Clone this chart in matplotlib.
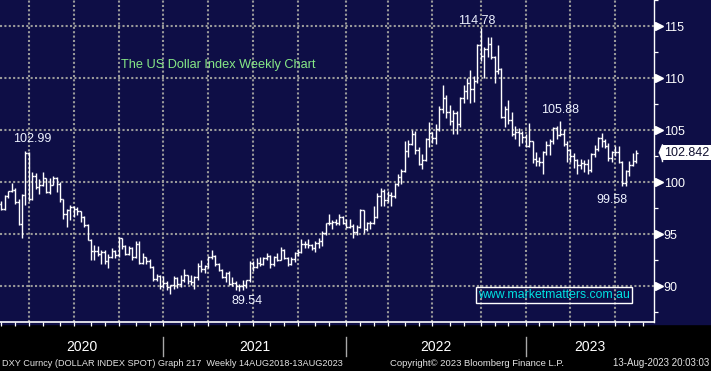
import matplotlib
matplotlib.use('Agg')
import matplotlib.pyplot as plt
import matplotlib.dates as mdates
from matplotlib import font_manager
from matplotlib.patches import Rectangle
from matplotlib.transforms import blended_transform_factory
import numpy as np
import pandas as pd

# DXY weekly bars (week ending Friday)
weeks = pd.date_range('2020-01-24', '2023-08-11', freq='W-FRI')

high_2020 = [97.98, 98.19, 98.76, 99.16, 99.91, 99.47, 98.4, 98.83, 102.99, 102.9,
             100.94, 100.87, 100.27, 100.93, 100.4, 100.4, 100.56, 100.45, 99.98, 98.4,
             97.43, 97.8, 97.7, 97.62, 97.19, 96.74, 96.0, 94.5, 93.99, 93.9,
             93.5, 93.49, 93.08, 93.66, 93.45, 94.74, 94.67, 93.99, 93.88, 93.73,
             94.3, 94.3, 93.21, 92.8, 92.6, 91.9, 91.2, 91.05, 91.0]
low_2020 = [97.35, 97.35, 97.34, 98.5, 99.0, 97.87, 95.84, 94.65, 97.8, 98.22,
            98.27, 99.3, 98.81, 99.6, 98.93, 98.9, 99.68, 99.05, 98.1, 96.43,
            95.71, 96.36, 96.64, 96.87, 96.2, 95.7, 94.4, 92.55, 92.52, 92.87,
            92.13, 92.12, 91.75, 92.7, 92.69, 92.84, 93.6, 92.97, 92.98, 92.47,
            92.73, 92.13, 92.13, 92.11, 91.78, 90.5, 90.47, 89.72, 89.8]
close_2020 = [97.87, 97.39, 98.69, 99.12, 99.26, 98.13, 95.97, 98.75, 102.82, 98.37,
              100.6, 99.52, 99.74, 100.37, 99.08, 99.74, 100.39, 99.86, 98.34, 96.94,
              97.33, 97.65, 97.43, 97.18, 96.65, 95.92, 94.44, 93.35, 93.42, 93.1,
              93.25, 92.37, 92.82, 93.33, 92.96, 94.64, 93.84, 93.06, 93.69, 92.77,
              94.04, 92.23, 92.75, 92.39, 91.79, 90.7, 90.98, 90.02, 90.3]

high_2021 = [90.5, 90.13, 90.95, 90.91, 91.05, 91.6, 91.1, 91.05, 91.0, 92.2,
             92.5, 92.0, 92.85, 93.44, 93.0, 92.2, 91.65, 91.33, 91.43, 90.9,
             90.5, 90.25, 90.6, 90.6, 92.4, 92.4, 92.74, 92.83, 92.83, 93.2,
             93.0, 92.85, 93.2, 93.73, 93.6, 92.75, 92.75, 93.3, 93.6, 94.5,
             94.3, 94.56, 94.0, 94.3, 94.6, 95.27, 96.1, 96.94, 96.38, 96.45,
             96.9, 96.7, 96.44]
low_2021 = [89.6, 89.21, 89.7, 89.84, 89.95, 90.42, 90.2, 90.1, 89.68, 90.6,
            91.35, 91.3, 91.7, 92.6, 91.98, 91.45, 90.8, 90.42, 90.06, 89.98,
            89.64, 89.53, 89.66, 89.8, 90.4, 91.5, 91.7, 91.9, 92.0, 92.5,
            91.78, 91.9, 92.4, 92.5, 92.6, 91.94, 92.0, 92.3, 92.9, 93.2,
            93.7, 93.7, 93.5, 93.28, 93.7, 93.9, 94.9, 95.9, 95.5, 95.85,
            95.85, 95.95, 95.55]
close_2021 = [89.94, 90.1, 90.77, 90.24, 90.58, 91.04, 90.48, 90.36, 90.9, 91.96,
              91.67, 91.9, 92.77, 92.93, 92.16, 91.56, 90.85, 91.28, 90.24, 90.32,
              89.97, 90.0, 90.13, 90.55, 92.23, 91.85, 92.23, 92.12, 92.68, 92.91,
              92.17, 92.78, 92.52, 93.5, 92.69, 92.13, 92.58, 93.19, 93.32, 94.04,
              94.09, 93.96, 93.64, 94.12, 94.32, 95.13, 96.03, 96.08, 96.12, 96.08,
              96.61, 96.1, 95.67]

high_2022 = [96.46, 95.97, 95.85, 97.44, 97.3, 96.2, 96.3, 97.74, 98.93, 99.42,
             99.3, 99.13, 99.06, 99.95, 100.77, 101.3, 103.9, 104.07, 105.01, 104.9,
             103.4, 102.7, 104.2, 105.79, 104.8, 105.6, 107.3, 109.29, 108.4, 107.4,
             106.9, 106.8, 108.2, 109.3, 110.0, 110.8, 110.2, 113.3, 114.78, 113.0,
             113.9, 113.9, 112.1, 113.15, 111.0, 107.3, 107.9, 106.7, 105.4, 105.2,
             104.9, 104.6]
low_2022 = [95.6, 94.63, 94.96, 95.6, 95.14, 95.3, 95.5, 95.95, 96.55, 97.7,
            97.73, 98.1, 97.68, 98.5, 99.6, 99.8, 101.0, 102.4, 103.6, 102.65,
            101.64, 101.3, 102.0, 103.4, 103.8, 103.7, 104.9, 106.6, 106.2, 105.5,
            104.6, 104.6, 105.3, 107.6, 108.0, 107.6, 107.7, 109.5, 111.6, 110.05,
            112.0, 111.8, 109.5, 110.4, 106.2, 105.34, 105.6, 104.4, 104.1, 103.5,
            103.8, 103.4]
close_2022 = [95.73, 95.17, 95.64, 97.27, 95.48, 96.07, 96.05, 96.62, 98.62, 99.12,
              98.23, 98.8, 98.62, 99.8, 100.5, 101.1, 103.0, 103.7, 104.6, 103.1,
              101.7, 102.16, 104.15, 104.7, 104.2, 105.1, 107.0, 108.07, 106.7, 105.9,
              106.6, 105.6, 108.1, 108.8, 109.5, 108.9, 109.76, 113.2, 112.1, 112.8,
              113.3, 112.0, 110.7, 110.9, 106.3, 107.0, 106.0, 104.6, 104.8, 104.7,
              104.3, 103.5]

high_2023 = [105.63, 103.95, 102.9, 102.4, 103.0, 103.96, 104.1, 105.3, 105.36, 105.88,
             105.1, 103.9, 103.2, 102.8, 102.2, 102.2, 102.1, 102.2, 102.8, 103.6,
             104.3, 104.7, 104.1, 103.8, 103.0, 103.5, 103.5, 102.0, 101.2, 102.0,
             102.8, 103.05]
low_2023 = [103.4, 101.8, 101.5, 101.5, 100.8, 102.6, 102.6, 103.7, 104.1, 104.4,
            103.45, 101.9, 101.9, 101.4, 100.78, 101.3, 101.0, 100.8, 101.0, 102.4,
            103.0, 103.4, 103.3, 102.0, 101.9, 102.5, 101.8, 99.6, 99.58, 100.6,
            101.5, 101.8]
close_2023 = [103.9, 102.2, 102.0, 101.9, 102.9, 103.6, 103.9, 105.2, 104.5, 104.6,
              103.7, 103.1, 102.5, 102.1, 101.6, 101.8, 101.7, 101.2, 102.7, 103.2,
              104.2, 103.9, 103.5, 102.3, 102.9, 102.9, 101.9, 99.9, 101.1, 101.6,
              102.0, 102.842]

highs = np.array(high_2020 + high_2021 + high_2022 + high_2023)
lows = np.array(low_2020 + low_2021 + low_2022 + low_2023)
closes = np.array(close_2020 + close_2021 + close_2022 + close_2023)
# FX trades round the clock: each week opens where the last one closed
opens = np.r_[97.6, closes[:-1]]

y_major = [90, 95, 100, 105, 110, 115]
years = ['2020', '2021', '2022', '2023']

navy = '#0e0e46'
grid_col = '#9a9a9a'

def pick_font(name, fallback='Liberation Sans'):
    try:
        font_manager.findfont(name, fallback_to_default=False)
        return name
    except Exception:
        return fallback

main_font = pick_font('Liberation Sans', 'DejaVu Sans')
narrow_font = pick_font('Liberation Sans Narrow', main_font)
plt.rcParams['font.family'] = main_font

# black page, navy panel for the chart and the right-hand scale
fig = plt.figure(figsize=(7.11, 3.71), dpi=100, facecolor='black')
fig.patches.append(Rectangle((0, 47 / 371), 1, 1, transform=fig.transFigure,
                             color=navy, zorder=-10))
ax = fig.add_axes([0, 49 / 371, 654 / 711, 322 / 371])
ax.set_facecolor(navy)

x = mdates.date2num(weeks)
half = 3.5
ax.vlines(x, lows, highs, color='white', lw=1.0, zorder=3)
ax.hlines(opens, x - half, x, color='white', lw=1.0, zorder=3)
ax.hlines(closes, x, x + half, color='white', lw=1.0, zorder=3)

x0 = mdates.date2num(pd.Timestamp('2020-01-28 08:00'))
x1 = mdates.date2num(pd.Timestamp('2023-09-16 12:00'))
ax.set_xlim(x0, x1)
ax.set_ylim(86.55, 117.39)

# grid: horizontal at labelled levels, vertical at last bar of each quarter
s = pd.Series(weeks)
q_last = s.groupby(s.dt.to_period('Q')).max()
q_last = q_last[q_last < weeks[-1]]
for v in y_major:
    ax.axhline(v, color=grid_col, lw=1.5, ls=(0, (1, 1.1)), zorder=1)
for d in q_last:
    ax.axvline(mdates.date2num(d), color=grid_col, lw=1.5, ls=(0, (1, 1.1)), zorder=1)

# monthly ticks along the bottom
fri = pd.Series(pd.date_range('2020-01-01', '2023-08-31', freq='W-FRI'))
m_last = fri.groupby(fri.dt.to_period('M')).max()
ax.set_xticks(mdates.date2num(m_last))
ax.set_xticklabels([])
ax.tick_params(axis='x', length=3, width=0.9, color='white', direction='out')

for sp in ['top', 'left']:
    ax.spines[sp].set_visible(False)
ax.spines['bottom'].set_color('white')
ax.spines['bottom'].set_linewidth(1.2)
ax.spines['right'].set_color('white')
ax.spines['right'].set_linewidth(1.0)

ax.yaxis.tick_right()
ax.set_yticks(y_major)
ax.set_yticks(np.arange(87.5, 117.6, 5), minor=True)
ax.tick_params(axis='y', which='major', length=0, pad=7.0, labelsize=9,
               labelcolor='white')
ax.tick_params(axis='y', which='minor', length=3, width=0.9, color='white')
tr_right = blended_transform_factory(ax.transAxes, ax.transData)
ax.plot([1 + 4.5 / 654] * len(y_major), y_major, ls='none', marker='>', ms=5.5,
        color='white', transform=tr_right, clip_on=False, zorder=5)

# last price tag
ax.plot([1 + 8 / 654], [closes[-1]], ls='none',
        marker=[(-0.4, 0), (0, 1), (0, -1)], ms=12.5, color='white',
        transform=tr_right, clip_on=False, zorder=5)
ax.text(1 + 10 / 654, closes[-1], f'{closes[-1]:.3f}', transform=tr_right,
        ha='left', va='center', fontsize=9, color='#101030', clip_on=False,
        bbox=dict(boxstyle='square,pad=0.15', fc='white', ec='none'), zorder=6)

# peak / trough labels
lab = dict(ha='center', va='center', fontsize=9, color='#eef2ff',
           textcoords='offset pixels', zorder=4)
ax.annotate('102.99', xy=(mdates.date2num(pd.Timestamp('2020-03-20')), 102.99),
            xytext=(7, 12), **lab)
ax.annotate('114.78', xy=(mdates.date2num(pd.Timestamp('2022-09-30')), 114.78),
            xytext=(-4, 7), **lab)
ax.annotate('105.88', xy=(mdates.date2num(pd.Timestamp('2023-03-10')), 105.88),
            xytext=(0, 11), **lab)
ax.annotate('99.58', xy=(mdates.date2num(pd.Timestamp('2023-07-21')), 99.58),
            xytext=(-14, -14), **lab)
ax.annotate('89.54', xy=(mdates.date2num(pd.Timestamp('2021-05-28')), 89.54),
            xytext=(8, -10), **lab)

ax.text(121 / 654, (322 - 65) / 322, 'The US Dollar Index Weekly Chart',
        transform=ax.transAxes, ha='left', va='center', fontsize=9.2,
        color='#86e886')
ax.text(478 / 654, (322 - 295) / 322, 'www.marketmatters.com.au',
        transform=ax.transAxes, ha='left', va='center', fontsize=8.8,
        color='#00e2e2',
        bbox=dict(boxstyle='square,pad=0.15', fc='none', ec='white', lw=1.0))

# year strip below the axis
y_end = s.groupby(s.dt.year).max()
seps = [mdates.date2num(y_end[yr]) for yr in [2020, 2021, 2022]]
bounds = [x0] + seps + [x1]
tr_bot = blended_transform_factory(ax.transData, ax.transAxes)
for i, yr in enumerate(years):
    ax.text((bounds[i] + bounds[i + 1]) / 2, -25 / 322, yr, transform=tr_bot,
            ha='center', va='center', fontsize=10, color='white',
            fontfamily=narrow_font, clip_on=False)
for sx in seps:
    ax.plot([sx, sx], [-15 / 322, -34 / 322], color='#a8a8a8', lw=1.0,
            transform=tr_bot, clip_on=False)

foot = dict(color='#e4e4e4', va='center', fontfamily=narrow_font)
fig.text(2 / 711, 8 / 371,
         'DXY Curncy (DOLLAR INDEX SPOT) Graph 217  Weekly 14AUG2018-13AUG2023',
         ha='left', fontsize=6.6, **foot)
fig.text(390 / 711, 8 / 371, 'Copyright\u00a9 2023 Bloomberg Finance L.P.',
         ha='left', fontsize=6.8, **foot)
fig.text(709 / 711, 8 / 371, '13-Aug-2023 20:03:03', ha='right', fontsize=7,
         **foot)

fig.savefig('out.png', dpi=100, facecolor=fig.get_facecolor())
